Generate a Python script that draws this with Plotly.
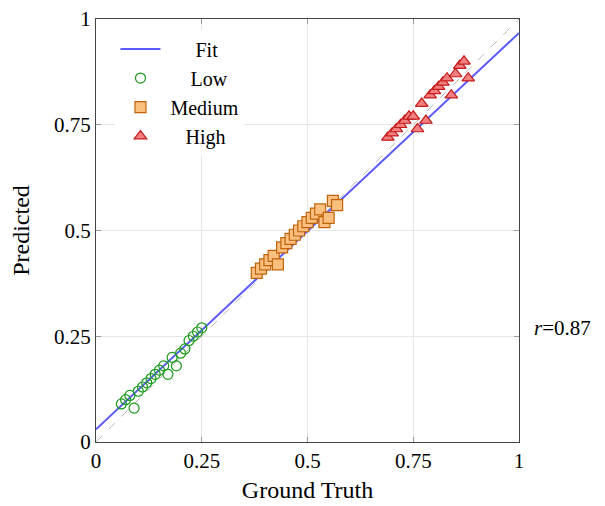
import plotly.graph_objects as go

# ---- data ----
low_x = [0.06, 0.07, 0.08, 0.09, 0.10, 0.11, 0.12, 0.13, 0.14, 0.15,
         0.16, 0.17, 0.18, 0.19, 0.20, 0.21, 0.22, 0.23, 0.24, 0.25]
low_y = [0.09, 0.10, 0.11, 0.08, 0.12, 0.13, 0.14, 0.15, 0.16, 0.17,
         0.18, 0.16, 0.20, 0.18, 0.21, 0.22, 0.24, 0.25, 0.26, 0.27]

med_x = [0.38, 0.39, 0.40, 0.41, 0.42, 0.43, 0.44, 0.45, 0.46, 0.47,
         0.48, 0.49, 0.50, 0.51, 0.52, 0.53, 0.54, 0.55, 0.56, 0.57]
med_y = [0.40, 0.41, 0.42, 0.43, 0.44, 0.42, 0.46, 0.47, 0.48, 0.49,
         0.50, 0.51, 0.52, 0.53, 0.54, 0.55, 0.52, 0.53, 0.57, 0.56]

high_x = [0.69, 0.70, 0.71, 0.72, 0.73, 0.74, 0.75, 0.76, 0.77, 0.78,
          0.79, 0.80, 0.81, 0.82, 0.83, 0.84, 0.85, 0.86, 0.87, 0.88]
high_y = [0.72, 0.73, 0.74, 0.75, 0.76, 0.77, 0.77, 0.74, 0.80, 0.76,
          0.82, 0.83, 0.84, 0.85, 0.86, 0.82, 0.87, 0.89, 0.90, 0.86]

fit_x = [0.0, 1.0]
fit_y = [0.03, 0.967]

diag_x = [0.0, 1.0]
diag_y = [0.0, 1.0]

tick_vals = [0, 0.25, 0.5, 0.75, 1]
tick_text = ["0", "0.25", "0.5", "0.75", "1"]

r_label = "<i>r</i>=0.87"

FONT = "Liberation Serif"
NB = "\u00a0"

fig = go.Figure()

fig.add_trace(go.Scatter(x=diag_x, y=diag_y, mode="lines", showlegend=False,
                         line=dict(color="#bdbdbd", width=1, dash="dash"),
                         hoverinfo="skip"))

fig.add_trace(go.Scatter(x=fit_x, y=fit_y, mode="lines",
                         name=NB * 6 + "Fit",
                         line=dict(color="#5a5aff", width=2)))

fig.add_trace(go.Scatter(x=low_x, y=low_y, mode="markers",
                         name=NB * 5 + "Low",
                         marker=dict(symbol="circle-open", size=10,
                                     color="#1a9a1a", line=dict(width=1.2, color="#1a9a1a"))))

fig.add_trace(go.Scatter(x=med_x, y=med_y, mode="markers", name=NB + "Medium",
                         marker=dict(symbol="square", size=11, color="#fbbf80",
                                     line=dict(width=1.2, color="#c0640a"))))

fig.add_trace(go.Scatter(x=high_x, y=high_y, mode="markers",
                         name=NB * 4 + "High",
                         marker=dict(symbol="triangle-up", size=11, color="#f08080",
                                     line=dict(width=1.2, color="#c41a1a"))))

axis_common = dict(
    range=[0, 1], tickvals=tick_vals, ticktext=tick_text,
    showgrid=True, gridcolor="#e6e6e6", gridwidth=1,
    zeroline=False, showline=True, linecolor="#444444", linewidth=1.2,
    mirror="allticks", ticks="inside", ticklen=5, tickcolor="#9a9a9a",
    tickfont=dict(family=FONT, size=21, color="black"),
    automargin=False, ticklabeloverflow="allow",
)

fig.update_xaxes(**axis_common,
                 title=dict(text="Ground Truth", font=dict(family=FONT, size=24, color="black"),
                            standoff=8))
fig.update_yaxes(**axis_common,
                 title=dict(text="Predicted", font=dict(family=FONT, size=24, color="black"),
                            standoff=17))

fig.add_annotation(x=1.03, y=0.27, xref="paper", yref="y", text=r_label,
                   showarrow=False, xanchor="left", yanchor="middle",
                   font=dict(family=FONT, size=21, color="black"))

fig.update_layout(
    width=597, height=498,
    margin=dict(l=88, r=86, t=11, b=64, autoexpand=False),
    paper_bgcolor="white", plot_bgcolor="white",
    font=dict(family=FONT, size=20, color="black"),
    legend=dict(x=0.046, y=0.975, xanchor="left", yanchor="top",
                bgcolor="white", borderwidth=0,
                font=dict(family=FONT, size=20, color="black"),
                itemwidth=40),
)

fig.write_html("out.html")
